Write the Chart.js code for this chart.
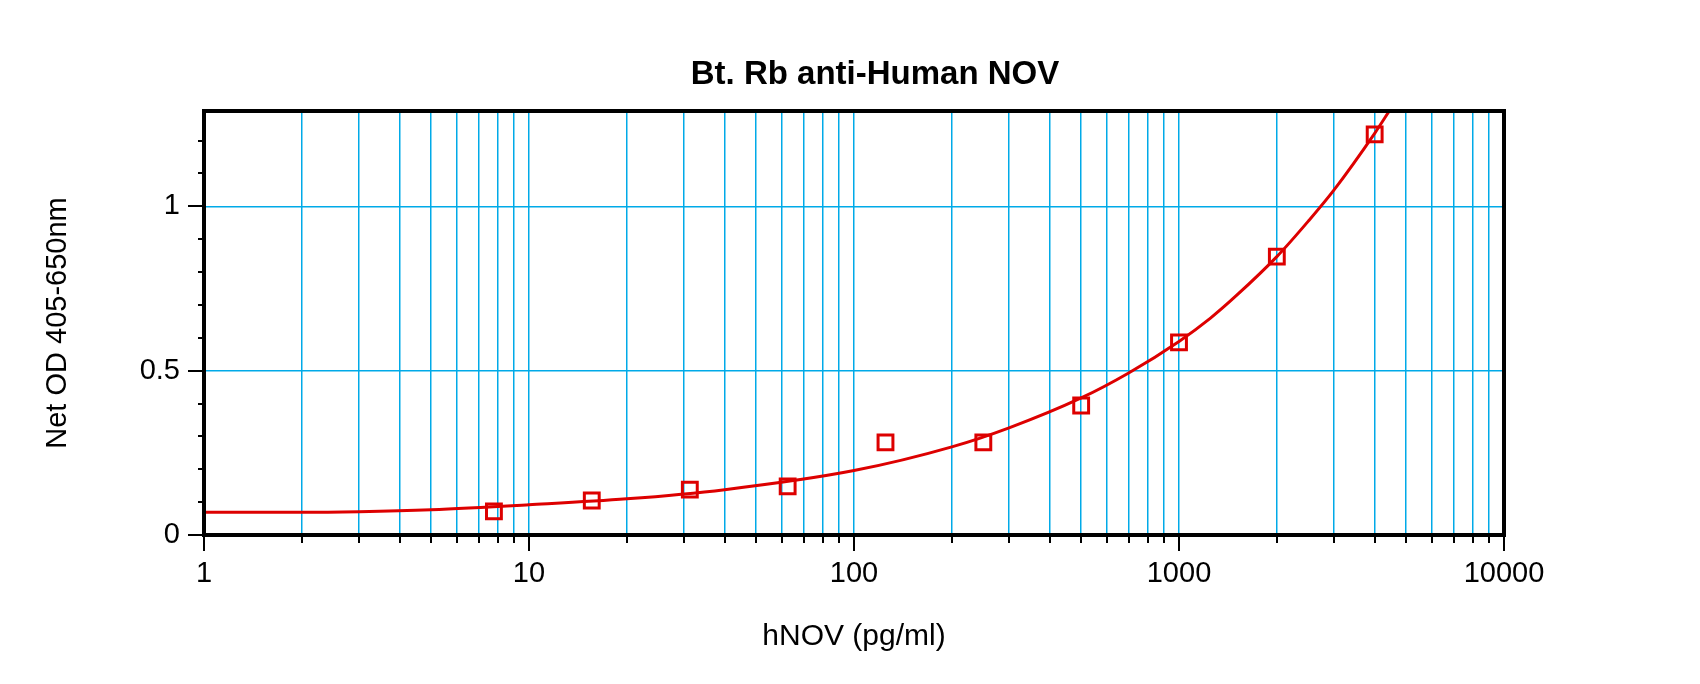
<!DOCTYPE html>
<html>
<head>
<meta charset="utf-8">
<script src="https://cdn.jsdelivr.net/npm/chart.js@4.4.1/dist/chart.umd.min.js"></script>
<style>
  html, body { margin: 0; padding: 0; background: #fff; }
  #wrap { width: 1700px; height: 684px; }
</style>
</head>
<body>
<div id="wrap"><canvas id="myChart" width="1700" height="684"></canvas></div>
<script>
const chartTitle = 'Bt. Rb anti-Human NOV'
const xTitle = 'hNOV (pg/ml)'
const yTitle = 'Net OD 405-650nm'

// standards (measured points)
const conc = [7.8, 15.6, 31.25, 62.5, 125, 250, 500, 1000, 2000, 4000]
const od = [0.072, 0.105, 0.138, 0.148, 0.282, 0.282, 0.394, 0.586, 0.847, 1.219]

// fitted curve
const curveX = [1, 2, 3, 5, 10, 20, 40, 100, 200, 300, 500, 700, 1000, 1250, 1500, 2000, 2500, 3000, 4000, 4436]
const curveY = [0.069, 0.069, 0.071, 0.077, 0.092, 0.11, 0.138, 0.196, 0.268, 0.326, 0.417, 0.493, 0.589, 0.66, 0.728, 0.847, 0.955, 1.05, 1.222, 1.29]

// axes
const xLabels = [1, 10, 100, 1000, 10000]
const xGrid = [1, 2, 3, 4, 5, 6, 7, 8, 9,
    10, 20, 30, 40, 50, 60, 70, 80, 90,
    100, 200, 300, 400, 500, 600, 700, 800, 900,
    1000, 2000, 3000, 4000, 5000, 6000, 7000, 8000, 9000, 10000]
const yLabels = [0, 0.5, 1]
const yTicks = [0, 0.1, 0.2, 0.3, 0.4, 0.5, 0.6, 0.7, 0.8, 0.9, 1, 1.1, 1.2]

const red = '#dd0000'
const blue = '#00aae8'
const fontFamily = '"Liberation Sans", Arial, sans-serif'

const isLabelY = v => yLabels.some(l => Math.abs(l - v) < 1e-6)

const framePlugin = {
    id: 'frame',
    afterDatasetsDraw(chart) {
        const { ctx, chartArea: a, scales: { x, y } } = chart
        ctx.save()
        ctx.strokeStyle = '#000'
        ctx.lineWidth = 2
        ctx.beginPath()
        xGrid.forEach(v => {
            const px = Math.round(x.getPixelForValue(v))
            const len = xLabels.includes(v) ? 16 : 8
            ctx.moveTo(px, a.bottom)
            ctx.lineTo(px, a.bottom + len)
        })
        yTicks.forEach(v => {
            const py = Math.round(y.getPixelForValue(v))
            const len = isLabelY(v) ? 16 : 6
            ctx.moveTo(a.left - len, py)
            ctx.lineTo(a.left, py)
        })
        ctx.stroke()
        ctx.lineWidth = 4
        ctx.strokeRect(a.left, a.top, a.right - a.left, a.bottom - a.top)

        ctx.fillStyle = '#000'
        ctx.font = 'bold 33px ' + fontFamily
        ctx.textAlign = 'center'
        ctx.textBaseline = 'middle'
        ctx.fillText(chartTitle, 875, 75)
        ctx.restore()
    }
}

const data = {
    datasets: [{
            label: 'Curve',
            data: curveX.map((v, i) => ({ x: v, y: curveY[i] })),
            showLine: true,
            borderColor: red,
            borderWidth: 3,
            pointRadius: 0,
            cubicInterpolationMode: 'monotone',
            fill: false
        },
        {
            label: 'Standards',
            data: conc.map((v, i) => ({ x: v, y: od[i] })),
            showLine: false,
            pointStyle: 'rect',
            pointRadius: 10.5,
            pointBorderWidth: 3,
            pointBorderColor: red,
            pointBackgroundColor: 'rgba(0,0,0,0)',
            pointHoverRadius: 10.5
        }
    ]
}

const config = {
    type: 'scatter',
    data: data,
    options: {
        responsive: false,
        animation: false,
        layout: { padding: { left: 0, right: 196, top: 111, bottom: 0 } },
        plugins: {
            legend: { display: false },
            title: { display: false },
            tooltip: { enabled: false }
        },
        scales: {
            x: {
                type: 'logarithmic',
                min: 1,
                max: 10000,
                afterBuildTicks: scale => {
                    scale.ticks = xGrid.map(v => ({ value: v, major: xLabels.includes(v) }))
                },
                afterFit: scale => { scale.height = 149 },
                border: { display: false },
                grid: { color: blue, lineWidth: 1.5, drawTicks: false },
                ticks: {
                    autoSkip: false,
                    maxRotation: 0,
                    padding: 22,
                    color: '#000',
                    font: { family: fontFamily, size: 29 },
                    callback: value => xLabels.includes(value) ? String(value) : ''
                },
                title: {
                    display: true,
                    text: xTitle,
                    color: '#000',
                    font: { family: fontFamily, size: 30 },
                    padding: { top: 0, bottom: 29 }
                }
            },
            y: {
                min: 0,
                max: 1.29,
                afterBuildTicks: scale => {
                    scale.ticks = yTicks.map(v => ({ value: v }))
                },
                afterFit: scale => { scale.width = 204 },
                border: { display: false },
                grid: {
                    color: c => (c.tick && isLabelY(c.tick.value) && c.tick.value > 0) ? blue : 'rgba(0,0,0,0)',
                    lineWidth: 1.5,
                    drawTicks: false
                },
                ticks: {
                    autoSkip: false,
                    padding: 24,
                    color: '#000',
                    font: { family: fontFamily, size: 29 },
                    callback: value => isLabelY(value) ? String(Math.round(value * 10) / 10) : ''
                },
                title: {
                    display: true,
                    text: yTitle,
                    color: '#000',
                    font: { family: fontFamily, size: 29 },
                    padding: { top: 41, bottom: 0 }
                }
            }
        }
    },
    plugins: [framePlugin]
}

var myChart = new Chart(
    document.getElementById('myChart'),
    config
)
</script>
</body>
</html>
